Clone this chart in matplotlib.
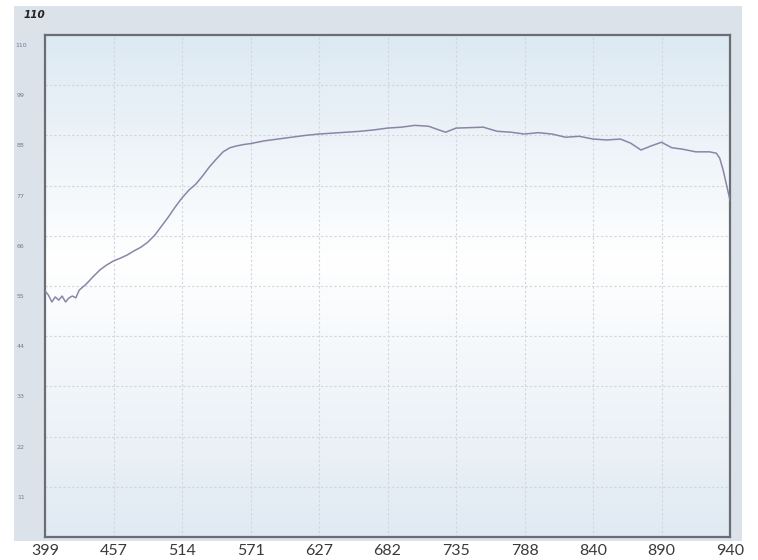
import matplotlib
matplotlib.use("Agg")
import matplotlib.pyplot as plt
import matplotlib.transforms as mtransforms
from matplotlib.patches import Rectangle
import numpy as np

# tick labels (evenly spaced positions on the axis)
x_labels = ["399", "457", "514", "571", "627", "682", "735", "788", "840", "890", "940"]
y_ticks = [11, 22, 33, 44, 55, 66, 77, 88, 99, 110]

# curve, x in tick-position units (0 = 399, 10 = 940)
pos = [0.0, 0.05, 0.1, 0.15, 0.2, 0.25, 0.3, 0.35, 0.4, 0.45, 0.5, 0.6, 0.7, 0.8, 0.9,
       1.0, 1.1, 1.2, 1.3, 1.4, 1.5, 1.6, 1.7, 1.8, 1.9, 2.0, 2.1, 2.2, 2.3, 2.4, 2.5,
       2.6, 2.7, 2.8, 2.9, 3.0, 3.2, 3.4, 3.6, 3.8, 4.0, 4.2, 4.4, 4.6, 4.8, 5.0, 5.2,
       5.4, 5.6, 5.75, 5.85, 6.0, 6.2, 6.4, 6.6, 6.8, 7.0, 7.2, 7.4, 7.6, 7.8, 8.0,
       8.2, 8.4, 8.55, 8.7, 8.85, 9.0, 9.15, 9.3, 9.5, 9.7, 9.8, 9.85, 9.9, 9.95, 10.0]
vals = [53.9, 53.0, 51.5, 52.6, 51.9, 52.8, 51.5, 52.4, 52.8, 52.4, 54.1, 55.4, 57.0,
        58.5, 59.6, 60.5, 61.1, 61.8, 62.7, 63.5, 64.6, 66.1, 68.1, 70.1, 72.3, 74.3,
        76.0, 77.3, 79.1, 81.1, 82.8, 84.4, 85.3, 85.7, 86.0, 86.2, 86.8, 87.2, 87.6,
        88.0, 88.3, 88.5, 88.7, 88.9, 89.2, 89.6, 89.8, 90.2, 90.0, 89.2, 88.7, 89.6,
        89.7, 89.8, 88.9, 88.7, 88.3, 88.6, 88.3, 87.6, 87.8, 87.2, 87.0, 87.2, 86.3,
        84.8, 85.7, 86.5, 85.3, 85.0, 84.4, 84.4, 84.1, 83.0, 80.4, 77.1, 73.8]

W, H = 758, 560
fig = plt.figure(figsize=(W / 100, H / 100), dpi=100)
fig.patch.set_facecolor("white")

# grey panel behind the plot
fig.add_artist(Rectangle((14 / W, 1 - 541 / H), (742 - 14) / W, (541 - 6) / H,
                         transform=fig.transFigure, facecolor="#dbe2e9",
                         edgecolor="none", zorder=0))

ax = fig.add_axes([45 / W, 1 - 537 / H, (730 - 45) / W, (537 - 35) / H])
ax.set_xlim(0, 10)
ax.set_ylim(0, 110)

# vertical gradient: light blue top, white middle, light blue bottom
top = np.array([0.865, 0.915, 0.952])
mid = np.array([1.0, 1.0, 1.0])
bot = np.array([0.880, 0.918, 0.952])
rows = []
for t in np.linspace(0, 1, 200):
    if t < 0.45:
        c = top + (mid - top) * (t / 0.45)
    else:
        c = mid + (bot - mid) * ((t - 0.45) / 0.55)
    rows.append(c)
img = np.array(rows)[:, None, :]
ax.imshow(img, extent=(0, 10, 0, 110), aspect="auto", zorder=0, interpolation="bilinear")

ax.plot(pos, vals, color="#8a85a8", lw=1.1, zorder=3)

ax.set_xticks(range(len(x_labels)))
ax.set_xticklabels(x_labels, fontsize=11.5, family="Lato", color="#3a3a3a")
ax.set_yticks(y_ticks)
ax.set_yticklabels([str(v) for v in y_ticks], fontsize=4.5, color="#6f7d95")
ax.tick_params(axis="both", length=0)
ax.tick_params(axis="x", pad=5)
ax.tick_params(axis="y", pad=16)
shift = mtransforms.ScaledTranslation(-0.02, -0.10, fig.dpi_scale_trans)
for lab in ax.get_yticklabels():
    lab.set_horizontalalignment("center")
    lab.set_transform(lab.get_transform() + shift)

ax.grid(True, color="#d2d6db", lw=0.8, ls=(0, (2, 2)), zorder=1)
for s in ax.spines.values():
    s.set_color("#6a6e74")
    s.set_linewidth(1.6)

fig.text(24 / W, 1 - 15 / H, "110", fontsize=7.5, fontweight="bold", fontstyle="italic",
         color="#222222", ha="left", va="center")

fig.savefig("out.png", dpi=100, facecolor=fig.get_facecolor())
